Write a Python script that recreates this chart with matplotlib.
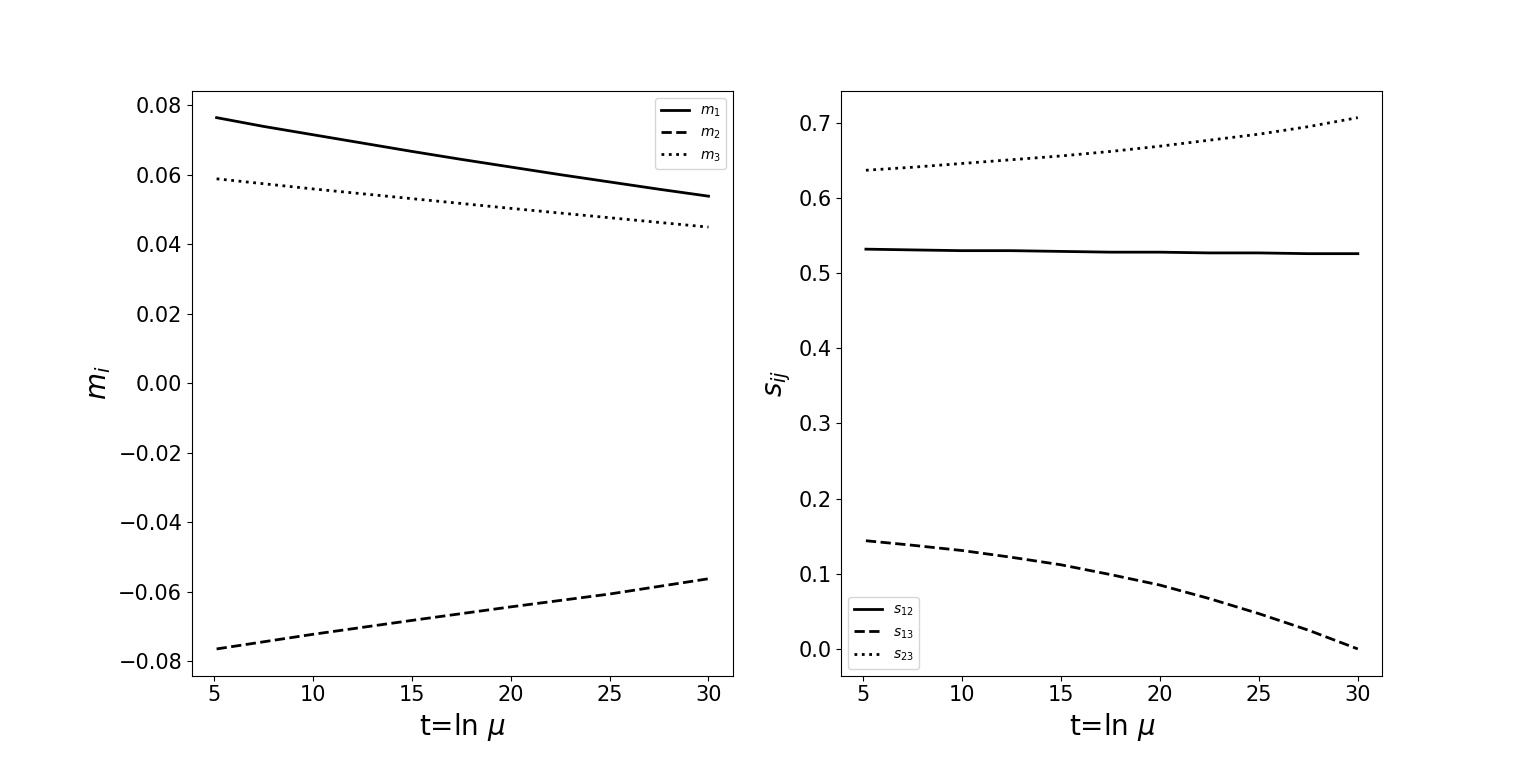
import numpy as np
from matplotlib import pyplot as plt

# (the curves start a little after t=5)
t = [5.15, 7.5, 10, 12.5, 15, 17.5, 20, 22.5, 25, 27.5, 30]
t6 = [5.15, 10, 15, 20, 25, 30]

m1 = [0.0765, 0.0740, 0.0716, 0.0692, 0.0668, 0.0645, 0.0623, 0.0601, 0.0580, 0.0559, 0.0539]
m2 = [-0.0764, -0.0722, -0.0682, -0.0643, -0.0606, -0.0562]
m3 = [0.0589, 0.0560, 0.0532, 0.0504, 0.0477, 0.0450]

s12 = [0.532, 0.531, 0.530, 0.530, 0.529, 0.528, 0.528, 0.527, 0.527, 0.526, 0.526]
s13 = [0.144, 0.138, 0.131, 0.122, 0.112, 0.099, 0.085, 0.067, 0.047, 0.025, 0.0]
s23 = [0.637, 0.641, 0.646, 0.651, 0.656, 0.662, 0.669, 0.677, 0.685, 0.695, 0.707]

fig = plt.figure(figsize=(15.36, 7.59), dpi=100)
ax1 = fig.add_subplot(1, 2, 1)
ax2 = fig.add_subplot(1, 2, 2)

ax1.plot(t, m1, 'k-', lw=2, label=r'$m_1$')
ax1.plot(t6, m2, 'k--', lw=2, label=r'$m_2$')
ax1.plot(t6, m3, 'k:', lw=2, label=r'$m_3$')
ax1.set_xlabel(r't=ln $\mu$', fontsize=20)
ax1.set_ylabel(r'$m_i$', fontsize=20)
ax1.tick_params(labelsize=15)
ax1.set_xticks([5, 10, 15, 20, 25, 30])
ax1.legend(loc='upper right')

ax2.plot(t, s12, 'k-', lw=2, label=r'$s_{12}$')
ax2.plot(t, s13, 'k--', lw=2, label=r'$s_{13}$')
ax2.plot(t, s23, 'k:', lw=2, label=r'$s_{23}$')
ax2.set_xlabel(r't=ln $\mu$', fontsize=20)
ax2.set_ylabel(r'$s_{ij}$', fontsize=20)
ax2.tick_params(labelsize=15)
ax2.set_xticks([5, 10, 15, 20, 25, 30])
ax2.legend(loc='lower left')

plt.savefig('out.png')
